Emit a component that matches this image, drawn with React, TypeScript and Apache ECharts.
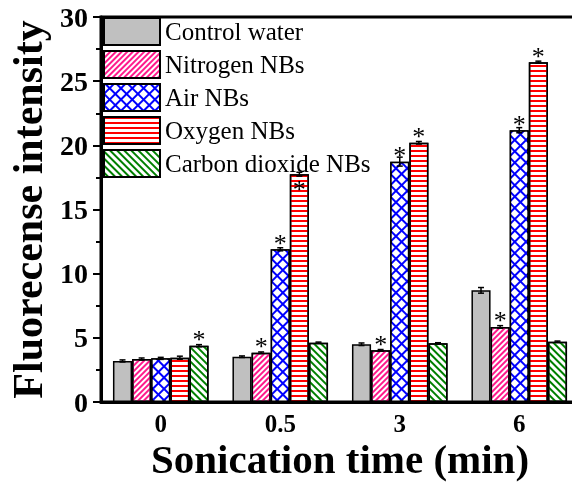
import React, { useEffect, useRef } from "react";
import * as echarts from "echarts";

const categories = ["0", "0.5", "3", "6"];
const seriesNames = ["Control water", "Nitrogen NBs", "Air NBs", "Oxygen NBs", "Carbon dioxide NBs"];

const controlWater = [3.2, 3.53, 4.5, 8.7];
const nitrogenNBs = [3.35, 3.84, 4.03, 5.85];
const airNBs = [3.4, 11.9, 18.73, 21.18];
const oxygenNBs = [3.45, 17.75, 20.2, 26.48];
const co2NBs = [4.39, 4.62, 4.57, 4.7];

const controlErr = [0.08, 0.06, 0.1, 0.22];
const nitrogenErr = [0.08, 0.06, 0.06, 0.1];
const airErr = [0.08, 0.12, 0.35, 0.2];
const oxygenErr = [0.12, 0.15, 0.1, 0.08];
const co2Err = [0.08, 0.05, 0.05, 0.05];

// 0 = none, 1 = asterisk above bar, 2 = asterisk inside bar top
const controlSig = [0, 0, 0, 0];
const nitrogenSig = [0, 1, 1, 1];
const airSig = [0, 1, 1, 1];
const oxygenSig = [0, 2, 1, 1];
const co2Sig = [1, 0, 0, 0];

const FONT = "Liberation Serif";

export default function App() {
  const ref = useRef<HTMLDivElement>(null);
  useEffect(() => {
    const chart = echarts.init(ref.current!, null, { renderer: "svg" });
    const values = [controlWater, nitrogenNBs, airNBs, oxygenNBs, co2NBs];
    const errs = [controlErr, nitrogenErr, airErr, oxygenErr, co2Err];
    const sigs = [controlSig, nitrogenSig, airSig, oxygenSig, co2Sig];
    const styles: any[] = [
      { color: "#c0c0c0" },
      {
        color: "#ffffff",
        decal: { symbol: "rect", symbolSize: 1, color: "#ff1a8c", dashArrayX: [1, 0], dashArrayY: [2, 2], rotation: -Math.PI / 4 },
      },
      {
        color: "#0000ff",
        decal: { symbol: "rect", symbolSize: 1, color: "#ffffff", dashArrayX: [6, 2], dashArrayY: [6, 2], rotation: Math.PI / 4 },
      },
      {
        color: "#ffffff",
        decal: { symbol: "rect", symbolSize: 1, color: "#ff0000", dashArrayX: [1, 0], dashArrayY: [2, 3], rotation: 0 },
      },
      {
        color: "#ffffff",
        decal: { symbol: "rect", symbolSize: 1, color: "#008000", dashArrayX: [1, 0], dashArrayY: [2, 3], rotation: Math.PI / 4 },
      },
    ];

    const barSeries = values.map((vals, si) => ({
      type: "bar",
      name: seriesNames[si],
      barGap: "0%",
      barCategoryGap: "20%",
      itemStyle: { ...styles[si], borderColor: "#000", borderWidth: 1.5 },
      label: {
        show: false,
        formatter: "*",
        fontFamily: FONT,
        fontSize: 26,
        color: "#000",
      },
      data: vals.map((v, ci) => {
        const s = sigs[si][ci];
        if (s === 0) return v;
        return {
          value: v,
          label: {
            show: true,
            position: s === 2 ? "insideTop" : "top",
            distance: s === 2 ? 2 : -7,
          },
        };
      }),
    }));

    const errData: number[][] = [];
    values.forEach((vals, si) => vals.forEach((v, ci) => errData.push([ci, v, errs[si][ci], si])));

    const option: any = {
      animation: false,
      grid: {
        left: 101,
        top: 17,
        width: 478,
        height: 385,
        outerBoundsMode: "none",
        containLabel: false,
        show: true,
        borderColor: "#000",
        borderWidth: 3,
        backgroundColor: "transparent",
      },
      legend: {
        orient: "vertical",
        left: 103,
        top: 17,
        padding: 0,
        itemWidth: 56,
        itemHeight: 27,
        itemGap: 4,
        icon: "rect",
        data: seriesNames,
        textStyle: { fontFamily: FONT, fontSize: 25, color: "#000" },
      },
      xAxis: {
        type: "category",
        data: categories,
        name: "Sonication time (min)",
        nameLocation: "middle",
        nameGap: 34.5,
        nameMoveOverlap: false,
        nameTextStyle: { fontFamily: FONT, fontSize: 41, lineHeight: 45, fontWeight: "bold", color: "#000" },
        axisLine: { show: true, lineStyle: { color: "#000", width: 3 } },
        axisTick: { show: false },
        axisLabel: { fontFamily: FONT, fontSize: 25, lineHeight: 28, fontWeight: "bold", color: "#000", margin: 7 },
      },
      yAxis: {
        type: "value",
        min: 0,
        max: 30,
        interval: 5,
        name: "Fluorecense intensity",
        nameLocation: "middle",
        nameGap: 50,
        nameTextStyle: { fontFamily: FONT, fontSize: 42, fontWeight: "bold", color: "#000" },
        axisLine: { show: true, lineStyle: { color: "#000", width: 3 } },
        axisTick: { show: true, inside: false, length: 8, lineStyle: { color: "#000", width: 2 } },
        minorTick: { show: true, splitNumber: 2, length: 5, lineStyle: { color: "#000", width: 2 } },
        splitLine: { show: false },
        axisLabel: { fontFamily: FONT, fontSize: 28, fontWeight: "bold", color: "#000", margin: 13 },
      },
      series: [
        ...barSeries,
        {
          type: "custom",
          z: 10,
          encode: { x: 0, y: 1 },
          data: errData,
          renderItem: (params: any, api: any) => {
            const ci = api.value(0);
            const v = api.value(1);
            const e = api.value(2);
            const si = api.value(3);
            const catW = api.size([1, 0])[0];
            const barW = (catW * 0.8) / 5;
            const c = api.coord([ci, v]);
            const x = c[0] + (si - 2) * barW;
            const yTop = api.coord([ci, v + e])[1];
            const yBot = api.coord([ci, v - e])[1];
            const hw = 3;
            const st = { stroke: "#000", lineWidth: 1.5 };
            return {
              type: "group",
              children: [
                { type: "line", shape: { x1: x, y1: yTop, x2: x, y2: yBot }, style: st },
                { type: "line", shape: { x1: x - hw, y1: yTop, x2: x + hw, y2: yTop }, style: st },
                { type: "line", shape: { x1: x - hw, y1: yBot, x2: x + hw, y2: yBot }, style: st },
              ],
            };
          },
        },
      ],
    };
    chart.setOption(option);
    return () => chart.dispose();
  }, []);
  return <div ref={ref} style={{ position: "fixed", left: 0, top: 0, width: 572, height: 482 }} />;
}
